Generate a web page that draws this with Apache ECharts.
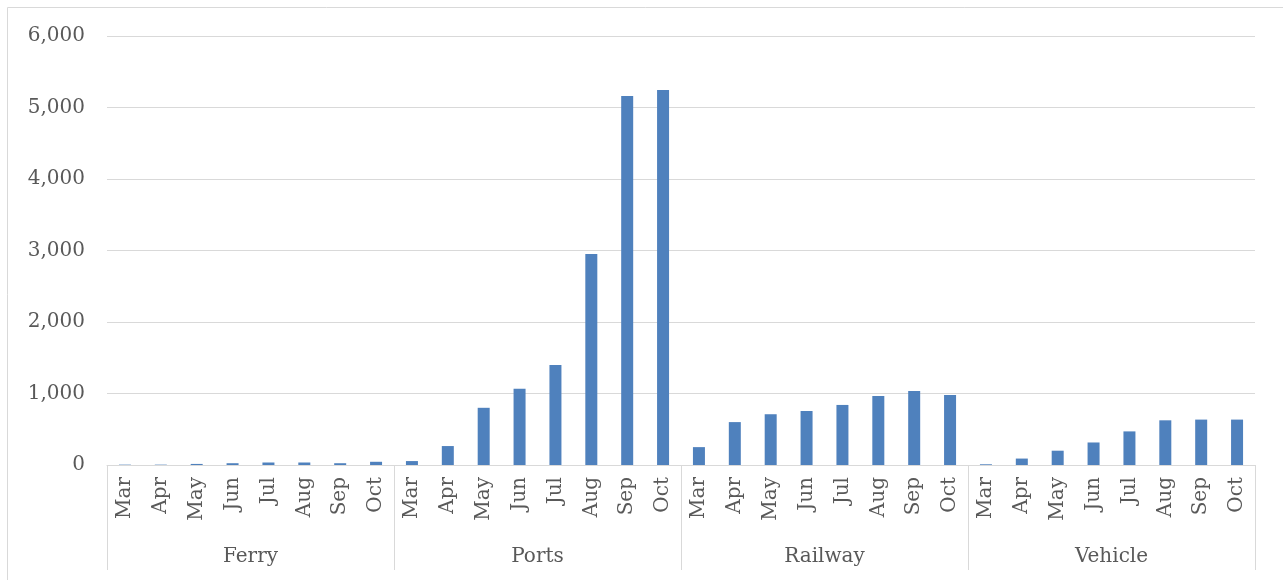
<!DOCTYPE html>
<html>
<head>
<meta charset="utf-8">
<script src="https://cdn.jsdelivr.net/npm/echarts@6/dist/echarts.min.js"></script>
<style>
  html, body { margin: 0; padding: 0; background: #fff; }
  #chart { width: 1283px; height: 580px; }
</style>
</head>
<body>
<div id="chart"></div>
<script>
// data
const groups = ['Ferry', 'Ports', 'Railway', 'Vehicle'];
const months = ['Mar', 'Apr', 'May', 'Jun', 'Jul', 'Aug', 'Sep', 'Oct'];
const ferry = [5, 5, 15, 25, 35, 35, 25, 45];
const ports = [55, 265, 800, 1065, 1400, 2950, 5160, 5245];
const railway = [250, 600, 710, 755, 840, 965, 1035, 980];
const vehicle = [10, 90, 200, 315, 470, 625, 635, 635];
const yTicks = [0, 1000, 2000, 3000, 4000, 5000, 6000];

const textColor = '#595959';
const lineColor = '#d9d9d9';
const font = 'DejaVu Serif';

const categories = [];
groups.forEach(() => months.forEach(m => categories.push(m)));
const values = [].concat(ferry, ports, railway, vehicle);

const chart = echarts.init(document.getElementById('chart'));

chart.setOption({
    animation: false,
    graphic: [{
        type: 'rect',
        shape: { x: 7.5, y: 7.5, width: 1290, height: 600 },
        style: { fill: 'none', stroke: lineColor, lineWidth: 1 },
        silent: true
    }],
    grid: {
        left: 107,
        right: 28,
        top: 36,
        bottom: 115,
        containLabel: false
    },
    xAxis: [
        {
            type: 'category',
            data: categories,
            axisLine: { show: true, lineStyle: { color: lineColor, width: 1 } },
            axisTick: { show: false },
            axisLabel: {
                interval: 0,
                rotate: 90,
                margin: 12,
                color: textColor,
                fontFamily: font,
                fontSize: 20
            }
        },
        {
            type: 'category',
            position: 'bottom',
            data: groups,
            axisLine: { show: false },
            axisTick: {
                show: true,
                interval: 0,
                length: 105,
                lineStyle: { color: lineColor, width: 1 }
            },
            axisLabel: {
                interval: 0,
                margin: 82,
                color: textColor,
                fontFamily: font,
                fontSize: 20
            }
        }
    ],
    yAxis: {
        type: 'value',
        min: yTicks[0],
        max: yTicks[yTicks.length - 1],
        interval: 1000,
        axisLine: { show: false },
        axisTick: { show: false },
        splitLine: { lineStyle: { color: lineColor, width: 1 } },
        axisLabel: {
            margin: 22,
            color: textColor,
            fontFamily: font,
            fontSize: 20,
            formatter: v => v.toLocaleString('en-US')
        }
    },
    series: [{
        type: 'bar',
        xAxisIndex: 0,
        data: values,
        barWidth: 12,
        itemStyle: { color: '#4f81bd' }
    }]
});
</script>
</body>
</html>
